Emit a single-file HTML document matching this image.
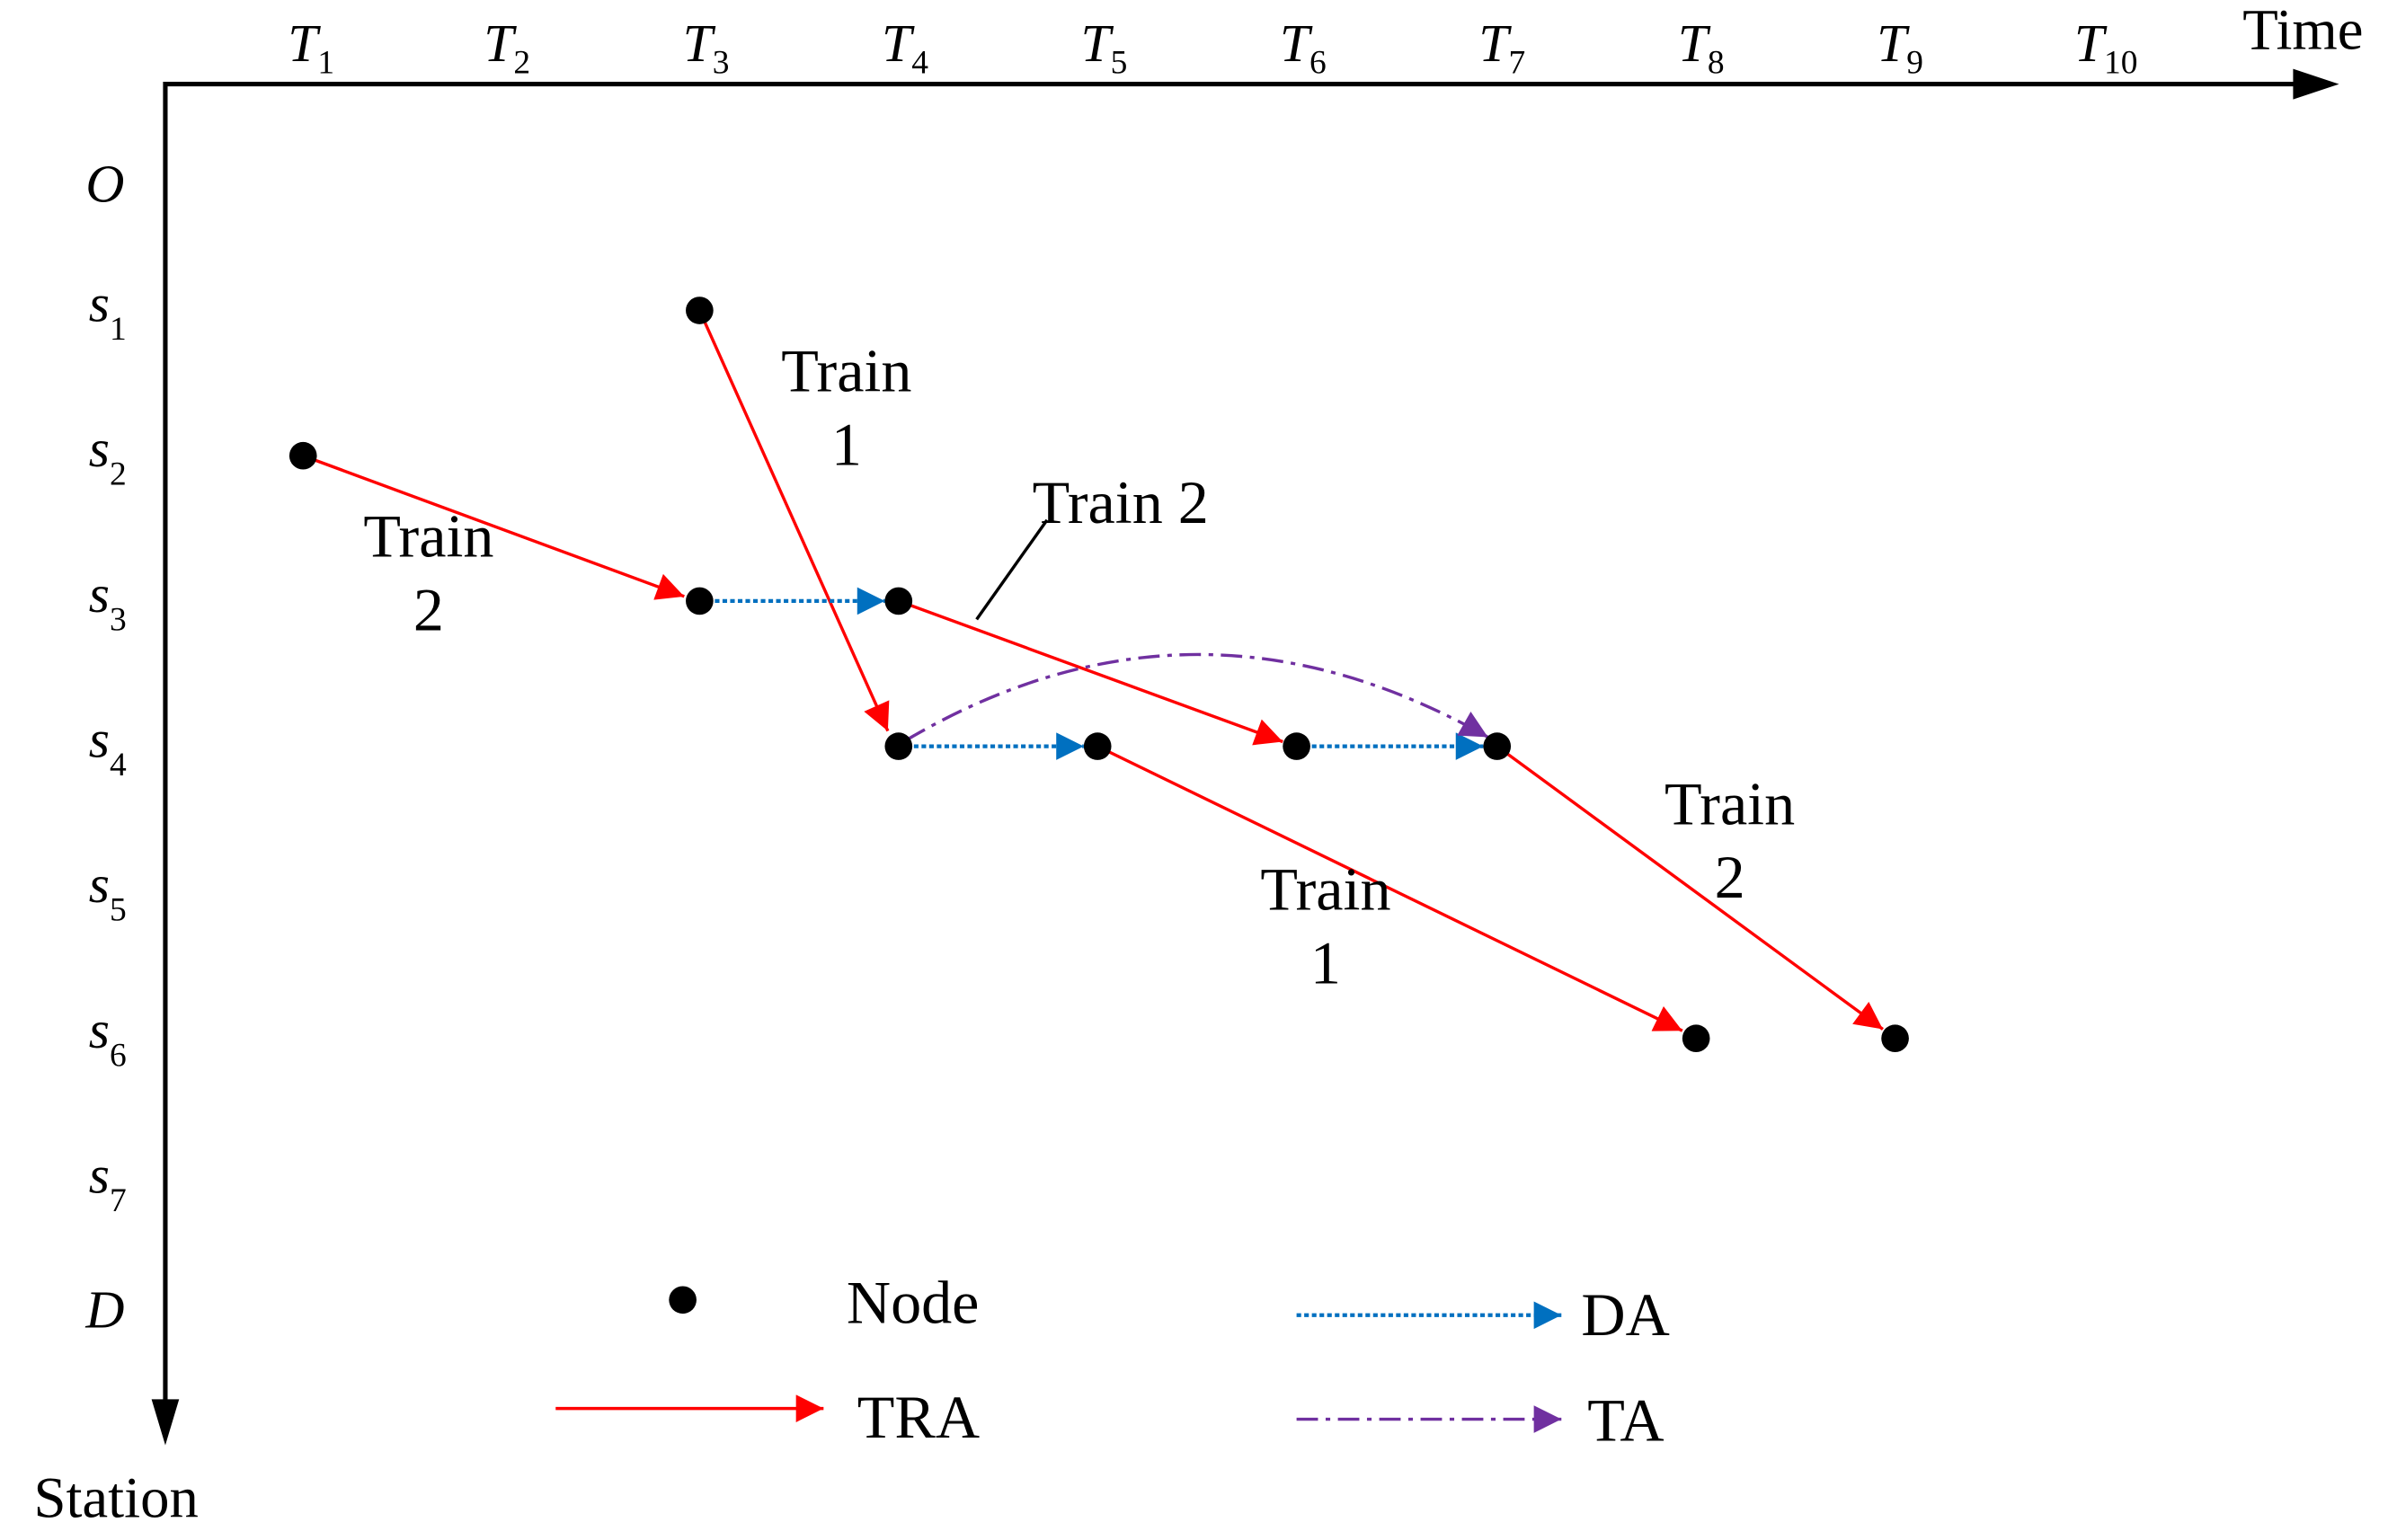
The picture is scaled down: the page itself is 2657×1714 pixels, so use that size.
<!DOCTYPE html>
<html><head><meta charset="utf-8"><style>
html,body{margin:0;padding:0;background:#fff;}
svg{display:block;}
text{font-family:"Liberation Serif",serif;fill:#000;}
.t{font-style:italic;font-size:35px;}
.sub{font-size:22px;font-style:normal;}
.lb{font-size:40px;text-anchor:middle;}
</style></head><body>
<svg width="2657" height="1714" viewBox="0 0 1560 1007" preserveAspectRatio="none" xmlns="http://www.w3.org/2000/svg">
<defs>
<marker id="ar" viewBox="0 0 10 10" refX="10" refY="5" markerWidth="25" markerHeight="18" markerUnits="userSpaceOnUse" orient="auto"><path d="M0,0 L10,5 L0,10 z" fill="#ff0000"/></marker>
<marker id="ab" viewBox="0 0 10 10" refX="10" refY="5" markerWidth="25" markerHeight="18" markerUnits="userSpaceOnUse" orient="auto"><path d="M0,0 L10,5 L0,10 z" fill="#0070c0"/></marker>
<marker id="ap" viewBox="0 0 10 10" refX="10" refY="5" markerWidth="25" markerHeight="18" markerUnits="userSpaceOnUse" orient="auto"><path d="M0,0 L10,5 L0,10 z" fill="#7030a0"/></marker>
</defs>
<polyline points="1510,55 108,55 108,925" fill="none" stroke="#000" stroke-width="3"/>
<path d="M1528,55 L1498,45 L1498,65 z" fill="#000"/>
<path d="M108,945 L99,915 L117,915 z" fill="#000"/>
<text x="1465" y="32" style="font-size:38px">Time</text>
<text x="22" y="992" style="font-size:38px">Station</text>
<g class="t">
<text x="188" y="40">T<tspan class="sub" dy="8">1</tspan></text>
<text x="316" y="40">T<tspan class="sub" dy="8">2</tspan></text>
<text x="446" y="40">T<tspan class="sub" dy="8">3</tspan></text>
<text x="576" y="40">T<tspan class="sub" dy="8">4</tspan></text>
<text x="706" y="40">T<tspan class="sub" dy="8">5</tspan></text>
<text x="836" y="40">T<tspan class="sub" dy="8">6</tspan></text>
<text x="966" y="40">T<tspan class="sub" dy="8">7</tspan></text>
<text x="1096" y="40">T<tspan class="sub" dy="8">8</tspan></text>
<text x="1226" y="40">T<tspan class="sub" dy="8">9</tspan></text>
<text x="1355" y="40">T<tspan class="sub" dy="8">10</tspan></text>
<text x="56" y="132">O</text>
<text x="58" y="210">s<tspan class="sub" dy="12">1</tspan></text>
<text x="58" y="305">s<tspan class="sub" dy="12">2</tspan></text>
<text x="58" y="400">s<tspan class="sub" dy="12">3</tspan></text>
<text x="58" y="495">s<tspan class="sub" dy="12">4</tspan></text>
<text x="58" y="590">s<tspan class="sub" dy="12">5</tspan></text>
<text x="58" y="685">s<tspan class="sub" dy="12">6</tspan></text>
<text x="58" y="780">s<tspan class="sub" dy="12">7</tspan></text>
<text x="56" y="868">D</text>
</g>
<g stroke="#ff0000" stroke-width="2" fill="none" marker-end="url(#ar)">
<line x1="198" y1="298" x2="447" y2="390"/>
<line x1="457" y1="203" x2="580" y2="478"/>
<line x1="587" y1="393" x2="838" y2="485"/>
<line x1="717" y1="488" x2="1099" y2="674"/>
<line x1="978" y1="488" x2="1230" y2="673"/>
</g>
<g stroke="#0070c0" stroke-width="2.5" stroke-dasharray="3,2" fill="none" marker-end="url(#ab)">
<line x1="462" y1="393" x2="578" y2="393"/>
<line x1="592" y1="488" x2="708" y2="488"/>
<line x1="852" y1="488" x2="969" y2="488"/>
</g>
<path d="M592,484 Q780,373 972,482" fill="none" stroke="#7030a0" stroke-width="2" stroke-dasharray="14,5,3,5" marker-end="url(#ap)"/>
<g fill="#000">
<circle cx="198" cy="298" r="9"/><circle cx="457" cy="203" r="9"/>
<circle cx="457" cy="393" r="9"/><circle cx="587" cy="393" r="9"/>
<circle cx="587" cy="488" r="9"/><circle cx="717" cy="488" r="9"/>
<circle cx="847" cy="488" r="9"/><circle cx="978" cy="488" r="9"/>
<circle cx="1108" cy="679" r="9"/><circle cx="1238" cy="679" r="9"/>
<circle cx="446" cy="850" r="9"/>
</g>
<text class="lb" x="553" y="256">Train</text><text class="lb" x="553" y="304">1</text>
<text class="lb" x="280" y="364">Train</text><text class="lb" x="280" y="412">2</text>
<text class="lb" x="732" y="342">Train 2</text>
<line x1="684" y1="340" x2="638" y2="405" stroke="#000" stroke-width="2"/>
<text class="lb" x="866" y="595">Train</text><text class="lb" x="866" y="643">1</text>
<text class="lb" x="1130" y="539">Train</text><text class="lb" x="1130" y="587">2</text>
<text x="553" y="865" style="font-size:40px">Node</text>
<line x1="847" y1="860" x2="1020" y2="860" stroke="#0070c0" stroke-width="2.5" stroke-dasharray="3,2" marker-end="url(#ab)"/>
<text x="1033" y="873" style="font-size:40px">DA</text>
<line x1="363" y1="921" x2="538" y2="921" stroke="#ff0000" stroke-width="2" marker-end="url(#ar)"/>
<text x="560" y="940" style="font-size:40px">TRA</text>
<line x1="847" y1="928" x2="1020" y2="928" stroke="#7030a0" stroke-width="2" stroke-dasharray="14,5,3,5" marker-end="url(#ap)"/>
<text x="1037" y="942" style="font-size:40px">TA</text>
</svg>
</body></html>
